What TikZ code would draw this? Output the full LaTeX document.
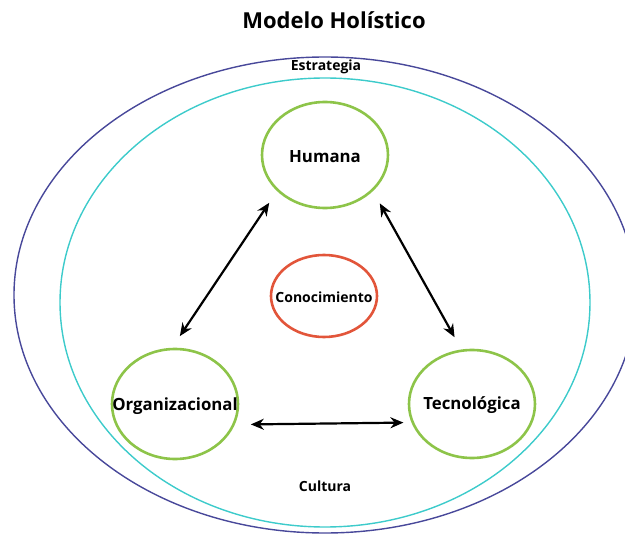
\documentclass[tikz,border=0pt]{standalone}
\usepackage{fontspec}
\setmainfont{Open Sans}
\usetikzlibrary{shapes,arrows,arrows.meta,positioning,calc}
\definecolor{navyline}{HTML}{48489A}
\definecolor{cyanline}{HTML}{3DCBCB}
\definecolor{greenline}{HTML}{8DC449}
\definecolor{redline}{HTML}{E2553A}

\begin{document}
\begin{tikzpicture}[x=1pt,y=-1pt,
    part/.style={ellipse,draw=greenline,line width=2.6pt,inner sep=0pt,minimum width=126pt,minimum height=106pt},
    core/.style={ellipse,draw=redline,line width=2.6pt,inner sep=0pt,minimum width=106pt,minimum height=82pt},
    parttext/.style={font=\fontsize{16.8}{19}\selectfont\bfseries},
    ringtext/.style={font=\fontsize{14}{16}\selectfont\bfseries},
    link/.style={{Stealth[length=13pt,width=11pt]}-{Stealth[length=13pt,width=11pt]},line width=2.2pt,shorten <=14pt,shorten >=14pt}]
    \useasboundingbox (0,0) rectangle (625,535);

    % Outer rings
    \draw[navyline,line width=1.4pt] (325,295) ellipse [x radius=311pt,y radius=238pt];
    \draw[cyanline,line width=1.4pt] (325,302.5) ellipse [x radius=265pt,y radius=224.5pt];

    % Title and ring labels
    \node[font=\fontsize{22}{26}\selectfont\bfseries] (title) at (334,20) {Modelo Holístico};
    \node[ringtext] (estrategia) at (326,67) {Estrategia};
    \node[ringtext] (cultura) at (325,486) {Cultura};

    % Dimensions
    \node[part] (humana) at (325,155) {};
    \node[part,minimum height=110pt] (org) at (175,404) {};
    \node[part,minimum height=108pt] (tec) at (472,404) {};
    \node[core] (conoc) at (324,296) {};
    \node[parttext] (humanatext) at (325,157) {Humana};
    \node[parttext] (orgtext) at (175,406) {Organizacional};
    \node[parttext] (tectext) at (472,405) {Tecnológica};
    \node[ringtext] (conoctext) at (324,297) {Conocimiento};

    % Links
    \draw[link] (humana.217) -- (org.93);
    \draw[link] (humana.323.4) -- (tec.101.9);
    \draw[link,shorten <=16pt,shorten >=8pt] (org.341.3) -- (tec.197.4);
\end{tikzpicture}
\end{document}
